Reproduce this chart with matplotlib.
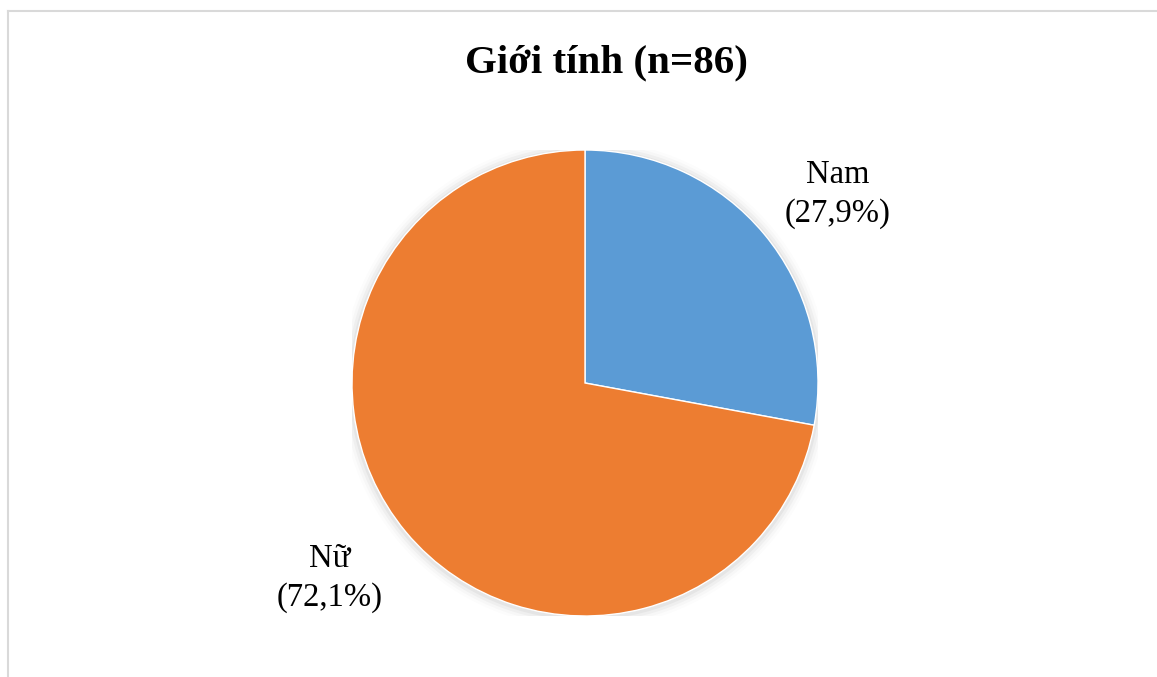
import matplotlib.pyplot as plt
from matplotlib.lines import Line2D

# Gender breakdown of respondents
labels = ['Nam', 'Nữ']
percents = [27.9, 72.1]
colors = ['#5B9BD5', '#ED7D31']
n_total = 86

plt.rcParams['font.family'] = ['Liberation Serif', 'DejaVu Serif']

W, H = 1157, 677
fig = plt.figure(figsize=(W / 100, H / 100), dpi=100)

# light grey frame (top and left edges visible)
fig.add_artist(Line2D([8 / W, 1], [1 - 11 / H, 1 - 11 / H], color='#d9d9d9', lw=1.5))
fig.add_artist(Line2D([8 / W, 8 / W], [0, 1 - 11 / H], color='#d9d9d9', lw=1.5))

fig.text(606 / W, 1 - 63 / H, f'Giới tính (n={n_total})', ha='center', va='center',
         fontsize=29.5, fontweight='bold')

cx, cy, r = 585, 383, 233
ax = fig.add_axes([(cx - r) / W, 1 - (cy + r) / H, 2 * r / W, 2 * r / H])

# soft shadow under the pie
for i, a in enumerate([0.04, 0.03, 0.02, 0.01]):
    ax.add_patch(plt.Circle((0.0, -0.005), 1.0 + 0.012 * (i + 1), color='black',
                            alpha=a, lw=0, zorder=0))

ax.pie(percents, colors=colors, startangle=90, counterclock=False, radius=1,
       wedgeprops=dict(edgecolor='white', linewidth=1))
ax.set_xlim(-1, 1)
ax.set_ylim(-1, 1)
ax.set_aspect('equal')
ax.axis('off')

label_pos = [(838, 194), (330, 578)]
for lab, p, (lx, ly) in zip(labels, percents, label_pos):
    txt = f'{lab}\n({p:.1f}%)'.replace('.', ',')
    fig.text(lx / W, 1 - ly / H, txt, ha='center', va='center', fontsize=23.5,
             linespacing=1.35)

fig.savefig('out.png', dpi=100)
